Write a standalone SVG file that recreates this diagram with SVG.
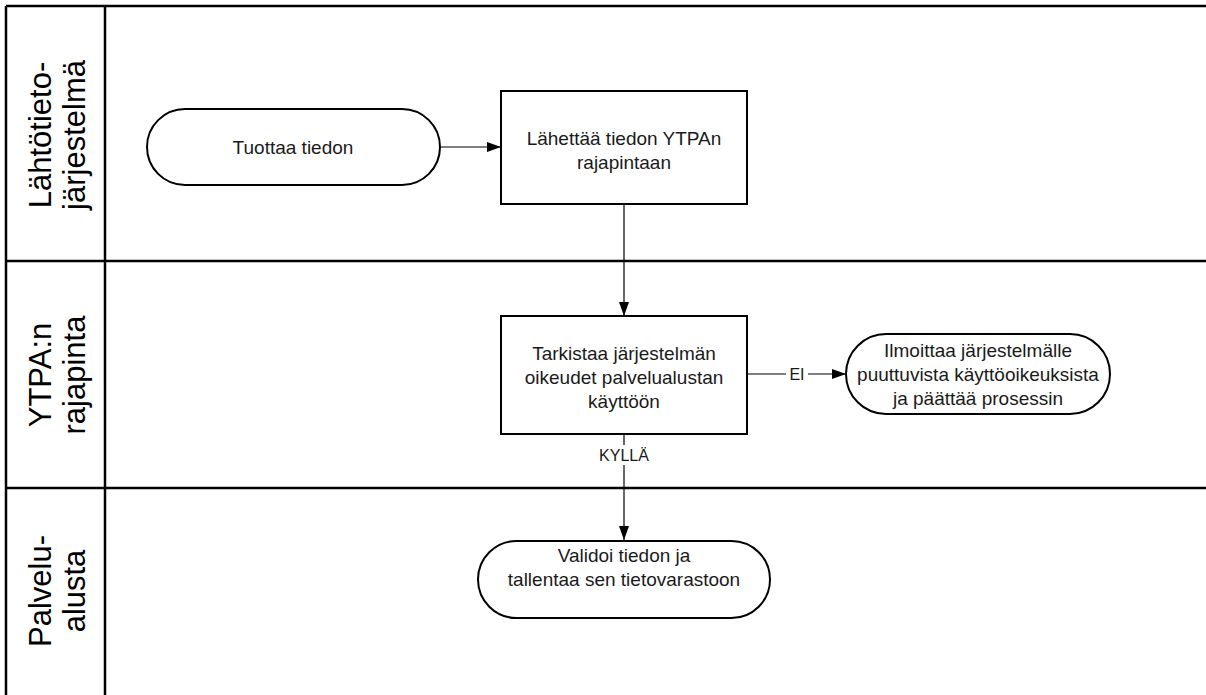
<svg xmlns="http://www.w3.org/2000/svg" width="1206" height="695" viewBox="0 0 1206 695">
<defs>
<marker id="arr" markerWidth="14" markerHeight="10" refX="14" refY="5" orient="auto" markerUnits="userSpaceOnUse">
<path d="M0,0 L14,5 L0,10 Z" fill="#000"/>
</marker>
<style>
.lane{stroke:#000;stroke-width:2.5;fill:none}
.node{fill:#fff;stroke:#000;stroke-width:2}
.t{font-family:"Liberation Sans",Arial,sans-serif;font-size:19px;fill:#1a1a1a;text-anchor:middle}
.lt{font-family:"Liberation Sans",Arial,sans-serif;font-size:31px;fill:#000;text-anchor:middle}
.lbl{font-family:"Liberation Sans",Arial,sans-serif;font-size:16px;fill:#1a1a1a;text-anchor:middle}
.c{stroke:#000;stroke-width:1.2;fill:none}
</style>
</defs>
<rect width="1206" height="695" fill="#fff"/>
<g id="lanes">
<line class="lane" x1="6" y1="6" x2="1206" y2="6"/>
<line class="lane" x1="6" y1="6" x2="6" y2="695"/>
<line class="lane" x1="105" y1="6" x2="105" y2="695"/>
<line class="lane" x1="6" y1="261" x2="1206" y2="261"/>
<line class="lane" x1="6" y1="488" x2="1206" y2="488"/>
</g>
<g id="lane-label-1" transform="translate(52,135) rotate(-90)">
<text class="lt" x="0" y="-1">Lähtötieto-</text>
<text class="lt" x="0" y="33">järjestelmä</text>
</g>
<g id="lane-label-2" transform="translate(52,375) rotate(-90)">
<text class="lt" x="0" y="-1">YTPA:n</text>
<text class="lt" x="0" y="33">rajapinta</text>
</g>
<g id="lane-label-3" transform="translate(52,591) rotate(-90)">
<text class="lt" x="0" y="-1">Palvelu-</text>
<text class="lt" x="0" y="33">alusta</text>
</g>
<g id="connectors">
<line class="c" x1="440" y1="147" x2="501" y2="147" marker-end="url(#arr)"/>
<line class="c" x1="624" y1="204" x2="624" y2="316" marker-end="url(#arr)"/>
<line class="c" x1="747" y1="374" x2="846" y2="374" marker-end="url(#arr)"/>
<rect x="786" y="364" width="22" height="20" fill="#fff"/>
<text class="lbl" x="797" y="380">EI</text>
<line class="c" x1="624" y1="434" x2="624" y2="540" marker-end="url(#arr)"/>
<rect x="598" y="445" width="52" height="20" fill="#fff"/>
<text class="lbl" x="624" y="461">KYLLÄ</text>
</g>
<g id="n1">
<rect class="node" x="147" y="109" width="293" height="76" rx="38" ry="38"/>
<text class="t" x="293" y="154">Tuottaa tiedon</text>
</g>
<g id="n2">
<rect class="node" x="501" y="91" width="246" height="113"/>
<text class="t" x="624" y="145">Lähettää tiedon YTPAn</text>
<text class="t" x="624" y="169">rajapintaan</text>
</g>
<g id="n3">
<rect class="node" x="501" y="316" width="246" height="118"/>
<text class="t" x="624" y="360">Tarkistaa järjestelmän</text>
<text class="t" x="624" y="384">oikeudet palvelualustan</text>
<text class="t" x="624" y="408">käyttöön</text>
</g>
<g id="n4">
<rect class="node" x="846" y="334" width="264" height="80" rx="40" ry="40"/>
<text class="t" x="978" y="357">Ilmoittaa järjestelmälle</text>
<text class="t" x="978" y="381">puuttuvista käyttöoikeuksista</text>
<text class="t" x="978" y="405">ja päättää prosessin</text>
</g>
<g id="n5">
<rect class="node" x="478" y="541" width="292" height="77" rx="38.5" ry="38.5"/>
<text class="t" x="624" y="562">Validoi tiedon ja</text>
<text class="t" x="624" y="586">tallentaa sen tietovarastoon</text>
</g>
</svg>
